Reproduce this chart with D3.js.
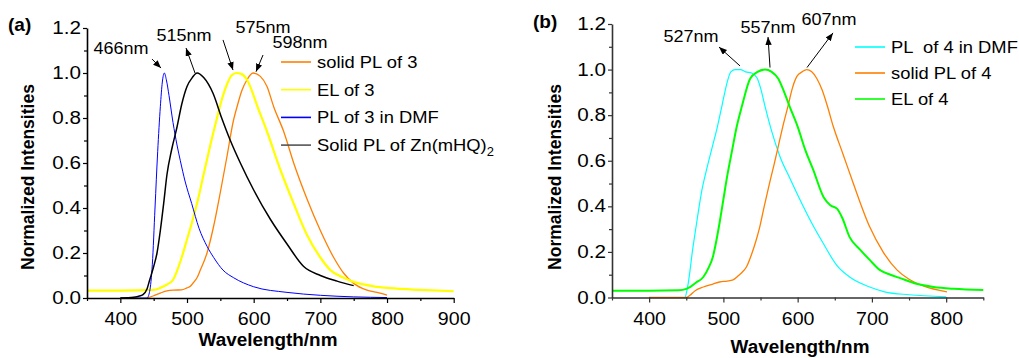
<!DOCTYPE html>
<html>
<head>
<meta charset="utf-8">
<script src="https://cdn.jsdelivr.net/npm/d3@7"></script>
<style>
  html, body { margin: 0; padding: 0; background: #fff; }
  svg { display: block; }
  text { font-family: Arial, "Liberation Sans", Helvetica, sans-serif; }
</style>
</head>
<body>
<svg id="chart" width="1019" height="358"></svg>
<script>
// ---------------- DATA ----------------
// Panel (a): [wavelength nm, normalized intensity]
const solidPL3 = [[440,0],[450,0.01],[460,0.022],[470,0.032],[480,0.035],[492,0.036],[500,0.045],[505,0.052],[510,0.07],[515,0.09],[520,0.124],[530,0.2],[540,0.32],[550,0.47],[560,0.63],[569,0.78],[576,0.86],[582,0.92],[590,0.97],[599,1.0],[610,0.985],[620,0.94],[630,0.85],[645,0.74],[660,0.6],[680,0.44],[700,0.3],[720,0.18],[735,0.11],[750,0.065],[770,0.035],[785,0.025],[800,0.013]];
const EL3 = [[350,0.033],[400,0.033],[450,0.036],[460,0.045],[470,0.06],[479,0.08],[485,0.12],[492,0.18],[500,0.26],[505,0.31],[515,0.42],[525,0.55],[535,0.68],[545,0.8],[553,0.89],[560,0.95],[567,0.99],[574,1.0],[582,0.995],[590,0.97],[607,0.84],[620,0.74],[640,0.57],[660,0.42],[680,0.28],[700,0.18],[715,0.124],[735,0.09],[755,0.067],[780,0.052],[804,0.044],[850,0.036],[900,0.03]];
const PL3DMF = [[400,0],[440,0],[444,0.03],[448,0.15],[452,0.4],[456,0.65],[460,0.85],[463,0.96],[466,1.0],[469,0.97],[473,0.9],[479,0.78],[485,0.68],[490,0.61],[497,0.52],[507,0.42],[518,0.31],[530,0.23],[540,0.18],[554,0.124],[570,0.09],[600,0.05],[650,0.025],[700,0.012],[750,0.005],[800,0.002]];
const ZnPL = [[400,0],[420,0.003],[430,0.01],[434,0.015],[440,0.04],[444,0.08],[450,0.14],[455,0.2],[460,0.3],[465,0.42],[470,0.55],[477,0.66],[485,0.76],[492,0.86],[500,0.94],[508,0.98],[515,1.0],[525,0.98],[539,0.91],[552,0.8],[565,0.7],[580,0.6],[600,0.48],[625,0.35],[650,0.24],[675,0.14],[700,0.1],[725,0.075],[750,0.055]];

// Panel (b)
const PL4DMF = [[400,0],[448,0],[452,0.05],[459,0.22],[465,0.35],[471,0.47],[478,0.57],[485,0.66],[492,0.75],[498,0.84],[504,0.93],[510,0.99],[516,1.0],[523,1.0],[530,0.99],[538,0.985],[545,0.965],[550,0.92],[556,0.84],[565,0.73],[576,0.62],[590,0.52],[603,0.43],[620,0.32],[634,0.24],[653,0.14],[670,0.09],[697,0.046],[717,0.025],[750,0.012],[800,0.003]];
const solidPL4 = [[400,0],[450,0],[455,0.01],[462,0.03],[473,0.046],[485,0.058],[495,0.068],[505,0.072],[513,0.077],[520,0.095],[525,0.11],[531,0.134],[538,0.19],[544,0.25],[549,0.31],[555,0.4],[562,0.5],[568,0.58],[573,0.65],[580,0.75],[587,0.84],[593,0.92],[599,0.97],[606,0.99],[612,1.0],[619,0.99],[626,0.96],[633,0.91],[640,0.84],[648,0.75],[661,0.63],[675,0.5],[697,0.31],[715,0.2],[734,0.12],[750,0.08],[770,0.05],[801,0.025]];
const EL4 = [[350,0.03],[400,0.03],[440,0.032],[450,0.038],[455,0.046],[463,0.065],[473,0.09],[480,0.13],[486,0.18],[490,0.24],[495,0.33],[500,0.43],[505,0.53],[512,0.65],[518,0.75],[525,0.84],[536,0.96],[546,0.99],[556,1.0],[565,0.99],[574,0.96],[582,0.9],[589,0.84],[600,0.75],[610,0.65],[621,0.56],[635,0.44],[644,0.405],[653,0.39],[660,0.35],[670,0.265],[684,0.21],[697,0.165],[711,0.12],[725,0.1],[738,0.085],[760,0.06],[783,0.046],[810,0.038],[850,0.033]];

// Tick values
const yMajor = [0, 0.2, 0.4, 0.6, 0.8, 1.0, 1.2];
const yMinor = [0.1, 0.3, 0.5, 0.7, 0.9, 1.1];
const xMajorA = [400, 500, 600, 700, 800, 900];
const xMinorA = [350, 450, 550, 650, 750, 850];
const xMajorB = [400, 500, 600, 700, 800];
const xMinorB = [350, 450, 550, 650, 750, 850];

// Legend labels
const legendA = ["solid PL of 3", "EL of 3", "PL of 3 in DMF", "Solid PL of Zn(mHQ)"];
const legendB = ["PL  of 4 in DMF", "solid PL of 4", "EL of 4"];

// Peak annotations: label, label pos [nm, I], arrow tail [nm, I], arrow head [nm, I]
const annotA = [
  {label: "466nm", at: [401, 1.084], from: [447.5, 1.062], to: [461, 1.022]},
  {label: "515nm", at: [495.5, 1.142], from: [512, 1.0], to: [498.5, 1.111]},
  {label: "575nm", at: [614, 1.178], from: [554, 1.147], to: [569, 1.013]},
  {label: "598nm", at: [669.5, 1.111], from: [614, 1.08], to: [603.5, 1.006]}
];
const annotB = [
  {label: "527nm", at: [456.4, 1.121], from: [522.4, 1.016], to: [494.1, 1.099]},
  {label: "557nm", at: [560.1, 1.161], from: [562.8, 1.009], to: [560.1, 1.143]},
  {label: "607nm", at: [642.3, 1.196], from: [612.6, 1.009], to: [647.6, 1.161]}
];

// ---------------- DRAW ----------------
const svg = d3.select("#chart");
svg.append("rect").attr("width", 1019).attr("height", 358).attr("fill", "#fff");

const defs = svg.append("defs");
defs.append("marker").attr("id", "arrow")
  .attr("viewBox", "0 0 10 8").attr("refX", 10).attr("refY", 4)
  .attr("markerUnits", "userSpaceOnUse")
  .attr("markerWidth", 8).attr("markerHeight", 6.4)
  .attr("orient", "auto")
  .append("path").attr("d", "M0,0 L10,4 L0,8 z").attr("fill", "#000");

const TICK_FONT = 17.5;
const FONT = 'Arial, "Liberation Sans", Helvetica, sans-serif';

// the reference's lettering is slightly wide: stretch glyphs horizontally
function stretch(sel, f) {
  sel.each(function () {
    const L = this.getComputedTextLength();
    d3.select(this).attr("textLength", L * f).attr("lengthAdjust", "spacingAndGlyphs");
  });
}

function drawPanel(cfg) {
  const g = svg.append("g");
  const x = d3.scaleLinear().domain(cfg.xDomain).range(cfg.xRange);
  const y = d3.scaleLinear().domain([0, 1.2]).range(cfg.yRange);
  const axisColor = cfg.axisColor;

  // curves
  const line = d3.line().x(d => x(d[0])).y(d => y(d[1])).curve(d3.curveMonotoneX);
  cfg.series.forEach(s => {
    g.append("path").datum(s.data).attr("d", line)
      .attr("fill", "none").attr("stroke", s.color)
      .attr("stroke-width", s.width).attr("stroke-linejoin", "round");
  });

  // axes
  const y0 = cfg.yRange[0];
  const x0 = cfg.xRange[0];
  const xa = g.append("g").attr("transform", `translate(0,${y0})`)
    .call(d3.axisBottom(x).tickValues(cfg.xMajor).tickFormat(d3.format("d"))
      .tickSize(5).tickSizeOuter(0).tickPadding(10));
  const xm = g.append("g").attr("transform", `translate(0,${y0})`)
    .call(d3.axisBottom(x).tickValues(cfg.xMinor).tickFormat("").tickSize(3).tickSizeOuter(0));
  xm.select(".domain").remove();
  const ya = g.append("g").attr("transform", `translate(${x0},0)`)
    .call(d3.axisLeft(y).tickValues(yMajor).tickFormat(d3.format(".1f"))
      .tickSize(4).tickSizeOuter(0).tickPadding(2));
  const ym = g.append("g").attr("transform", `translate(${x0},0)`)
    .call(d3.axisLeft(y).tickValues(yMinor).tickFormat("").tickSize(3).tickSizeOuter(0));
  ym.select(".domain").remove();
  [xa, xm, ya, ym].forEach(a => {
    a.selectAll(".domain").attr("stroke", axisColor).attr("stroke-width", 1.6);
    a.selectAll(".tick line").attr("stroke", axisColor).attr("stroke-width", 1.2);
    a.selectAll(".tick text").attr("fill", "#000").attr("font-size", TICK_FONT)
      .attr("font-family", FONT);
  });
  stretch(xa.selectAll(".tick text"), 1.12);
  stretch(ya.selectAll(".tick text"), 1.18);

  // axis titles
  g.append("text").attr("x", cfg.xTitle[0]).attr("y", cfg.xTitle[1])
    .attr("text-anchor", "middle").attr("font-weight", "bold").attr("font-size", 18)
    .text("Wavelength/nm").call(stretch, 1.05);
  g.append("text")
    .attr("transform", `translate(${cfg.yTitle[0]},${cfg.yTitle[1]}) rotate(-90)`)
    .attr("text-anchor", "middle").attr("font-weight", "bold").attr("font-size", 17.5)
    .text("Normalized Intensities");

  // panel label
  g.append("text").attr("x", cfg.panelLabel[1]).attr("y", cfg.panelLabel[2])
    .attr("font-weight", "bold").attr("font-size", 19).text(cfg.panelLabel[0]);

  // legend
  cfg.legend.forEach((lab, i) => {
    const ly = cfg.legendPos[1] + i * cfg.legendStep;
    const s = cfg.series.find(d => d.name === lab);
    g.append("line").attr("x1", cfg.legendPos[0]).attr("x2", cfg.legendPos[0] + 30)
      .attr("y1", ly).attr("y2", ly)
      .attr("stroke", s.legendColor || s.color).attr("stroke-width", 1.6);
    const t = g.append("text").attr("x", cfg.legendPos[0] + 36).attr("y", ly + 6)
      .attr("font-size", 17).style("white-space", "pre").text(lab);
    if (s.sub) {
      t.append("tspan").attr("dy", 5).attr("font-size", 12).text(s.sub);
    }
    stretch(t, 1.08);
  });

  // annotations
  cfg.annot.forEach(a => {
    g.append("text").attr("x", x(a.at[0])).attr("y", y(a.at[1]))
      .attr("text-anchor", "middle").attr("font-size", 17).text(a.label)
      .call(stretch, 1.06);
    g.append("line")
      .attr("x1", x(a.from[0])).attr("y1", y(a.from[1]))
      .attr("x2", x(a.to[0])).attr("y2", y(a.to[1]))
      .attr("stroke", "#000").attr("stroke-width", 1)
      .attr("marker-end", "url(#arrow)");
  });
}

drawPanel({
  xDomain: [350, 900], xRange: [87, 453.7], yRange: [298, 28],
  xMajor: xMajorA, xMinor: xMinorA, axisColor: "#000",
  series: [
    {name: legendA[0], data: solidPL3, color: "#FF7F00", width: 1.3},
    {name: legendA[1], data: EL3, color: "#FFFF00", width: 2.2},
    {name: legendA[2], data: PL3DMF, color: "#0000FF", width: 1},
    {name: legendA[3], data: ZnPL, color: "#000000", width: 1.5, legendColor: "#555", sub: "2"}
  ],
  legend: legendA, legendPos: [281, 62], legendStep: 27.7,
  annot: annotA,
  xTitle: [268, 346], yTitle: [34, 177],
  panelLabel: ["(a)", 8, 31]
});

drawPanel({
  xDomain: [350, 850], xRange: [612, 983.3], yRange: [297.5, 24],
  xMajor: xMajorB, xMinor: xMinorB, axisColor: "#333",
  series: [
    {name: legendB[0], data: PL4DMF, color: "#00FFFF", width: 1.2},
    {name: legendB[1], data: solidPL4, color: "#FF7F00", width: 1.3},
    {name: legendB[2], data: EL4, color: "#00FF00", width: 2}
  ],
  legend: legendB, legendPos: [855, 47], legendStep: 26,
  annot: annotB,
  xTitle: [800, 353], yTitle: [561, 177],
  panelLabel: ["(b)", 533, 28]
});
</script>
</body>
</html>
